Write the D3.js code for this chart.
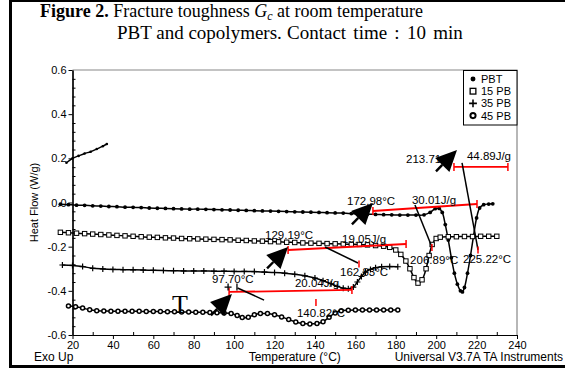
<!DOCTYPE html>
<html>
<head>
<meta charset="utf-8">
<script src="https://cdn.jsdelivr.net/npm/d3@7"></script>
<style>
  body { margin: 0; background: #fff; overflow: hidden; }
  svg { display: block; }
  text { font-family: Arial, "Liberation Sans", sans-serif; }
</style>
</head>
<body>
<svg id="chart" width="565" height="369"></svg>
<script>
// DSC traces: [temperature °C, heat flow W/g]
const pbt = [[14,-0.008],[18,-0.010],[22,-0.012],[26,-0.013],[30,-0.015],[34,-0.016],[38,-0.018],[42,-0.019],[46,-0.021],[50,-0.022],[54,-0.023],[58,-0.025],[62,-0.026],[66,-0.027],[70,-0.028],[74,-0.029],[78,-0.030],[82,-0.030],[86,-0.031],[90,-0.032],[94,-0.033],[98,-0.034],[102,-0.035],[106,-0.036],[110,-0.037],[114,-0.038],[118,-0.039],[122,-0.040],[126,-0.041],[130,-0.042],[134,-0.043],[138,-0.044],[142,-0.045],[146,-0.046],[150,-0.047],[154,-0.048],[158,-0.050],[162,-0.052],[166,-0.053],[170,-0.054],[174,-0.055],[178,-0.056],[182,-0.057],[186,-0.057],[190,-0.057],[194,-0.056],[197,-0.045],[199.5,-0.028],[201.5,-0.027],[203,-0.045],[204.5,-0.10],[206,-0.17],[207.5,-0.25],[209,-0.32],[210.5,-0.37],[212,-0.40],[213,-0.405],[214,-0.385],[215.5,-0.32],[217,-0.24],[218.5,-0.15],[220,-0.07],[221.5,-0.025],[223.5,-0.010],[226,-0.007],[228,-0.006]];
const pb15 = [[14,-0.135],[18,-0.137],[22,-0.139],[26,-0.141],[30,-0.143],[34,-0.145],[38,-0.147],[42,-0.149],[46,-0.151],[50,-0.153],[54,-0.155],[58,-0.157],[62,-0.158],[66,-0.160],[70,-0.161],[74,-0.163],[78,-0.164],[82,-0.165],[86,-0.166],[90,-0.167],[94,-0.168],[98,-0.169],[102,-0.171],[106,-0.172],[110,-0.174],[114,-0.175],[118,-0.177],[122,-0.178],[126,-0.180],[130,-0.181],[134,-0.183],[138,-0.184],[142,-0.185],[146,-0.186],[150,-0.187],[154,-0.188],[158,-0.189],[162,-0.190],[166,-0.192],[170,-0.195],[174,-0.198],[177,-0.203],[180,-0.215],[182.5,-0.235],[185,-0.265],[187,-0.30],[189,-0.34],[191,-0.365],[193,-0.35],[195,-0.30],[196.5,-0.24],[198,-0.19],[200,-0.163],[202,-0.157],[206,-0.155],[210,-0.155],[214,-0.154],[218,-0.154],[222,-0.153],[226,-0.153],[230,-0.153]];
const pb35 = [[15,-0.283],[20,-0.285],[25,-0.290],[30,-0.298],[35,-0.301],[40,-0.303],[45,-0.304],[50,-0.305],[55,-0.306],[60,-0.307],[65,-0.308],[70,-0.309],[75,-0.310],[80,-0.310],[85,-0.310],[90,-0.311],[95,-0.311],[100,-0.312],[105,-0.312],[110,-0.313],[115,-0.315],[120,-0.317],[125,-0.320],[130,-0.325],[135,-0.332],[140,-0.342],[144,-0.354],[148,-0.368],[151,-0.380],[154,-0.388],[156.5,-0.390],[159,-0.383],[161,-0.360],[163,-0.335],[165,-0.315],[167.5,-0.303],[170,-0.295],[173,-0.291],[177,-0.290],[181,-0.291]];
const pb45 = [[18,-0.469],[21.5,-0.472],[25,-0.478],[28.5,-0.486],[32,-0.490],[35.5,-0.491],[39,-0.492],[42.5,-0.492],[46,-0.493],[49.5,-0.493],[53,-0.493],[56.5,-0.494],[60,-0.494],[63.5,-0.494],[67,-0.495],[70.5,-0.495],[74,-0.496],[77.5,-0.496],[81,-0.497],[84.5,-0.497],[88,-0.498],[91.5,-0.499],[95,-0.500],[98.5,-0.503],[101.5,-0.512],[104,-0.521],[107,-0.520],[110,-0.508],[113,-0.503],[116.5,-0.503],[120,-0.508],[123.5,-0.518],[127,-0.530],[130.5,-0.541],[134,-0.548],[137.5,-0.550],[141,-0.548],[144,-0.540],[147,-0.520],[150,-0.500],[153,-0.490],[156.5,-0.488],[160,-0.487],[163.5,-0.487],[167,-0.487],[170.5,-0.487],[174,-0.487],[177.5,-0.487],[181,-0.487]];
const stray = [[17,0.180],[20,0.200],[23,0.211],[26,0.222],[29,0.230],[32,0.242],[35,0.255],[37,0.265]];

const legendNames = ['PBT', '15 PB', '35 PB', '45 PB'];
const xTicks = [20, 40, 60, 80, 100, 120, 140, 160, 180, 200, 220, 240];
const yTicks = [-0.6, -0.4, -0.2, 0, 0.2, 0.4, 0.6];

// integration baselines (red) [T1, v1, T2, v2]
const baselines = [[168.7,-0.0385,220.2,-0.0068],[208.8,0.161,235.5,0.161],[126.7,-0.215,185.1,-0.188],[97.5,-0.405,158.3,-0.396]];
// peak leaders [T1, v1, T2, v2]
const leaders = [[189.5,-0.011,197.9,-0.2015],[212.8,0.179,220.7,-0.215],[145.0,-0.2015,161.3,-0.274],[101.7,-0.387,114.8,-0.442]];
// red peak marks [T, v]
const peakMarks = [[197.9,-0.204],[220.7,-0.215],[161.8,-0.278],[140.5,-0.453]];
// onset arrows, tip at [T, v]
const arrows = [[168.7,-0.002],[210.3,0.238],[126.7,-0.2015],[98.9,-0.414]];
// annotation texts [text, T, v]
const notes = [
  ['172.98°C', 155.9, 0.007], ['30.01J/g', 188.0, 0.011],
  ['213.71', 185.1, 0.197], ['44.89J/g', 215.2, 0.210],
  ['129.19°C', 115.3, -0.147], ['19.05J/g', 153.4, -0.165],
  ['162.83°C', 152.4, -0.315], ['206.89°C', 187.1, -0.260],
  ['225.22°C', 213.3, -0.256], ['97.70°C', 89.0, -0.346],
  ['20.04J/g', 130.1, -0.365], ['140.82°C', 131.1, -0.500]
];

const svg = d3.select('#chart');
const x = d3.scaleLinear().domain([20, 240]).range([72.5, 517]);
const y = d3.scaleLinear().domain([-0.6, 0.6]).range([335, 70]);

// outer frame (left, top, bottom)
svg.append('path').attr('d', 'M700,0.5H10.5V366.5H700')
  .attr('fill', 'none').attr('stroke', '#000').attr('stroke-width', 3);

// title
const serif = '"Liberation Serif", "Times New Roman", serif';
const title = svg.append('text').attr('x', 40).attr('y', 17)
  .style('font-family', serif).style('font-size', '18px');
title.append('tspan').attr('font-weight', 'bold').text('Figure 2.');
title.append('tspan').text(' Fracture toughness ');
title.append('tspan').attr('font-style', 'italic').text('G');
title.append('tspan').attr('font-style', 'italic').attr('font-size', '12px').attr('dy', 3).text('c');
title.append('tspan').attr('dy', -3).text(' at room temperature');
const sub = svg.append('text').attr('y', 39).style('font-family', serif).style('font-size', '19px');
sub.append('tspan').attr('x', 117).text('PBT and copolymers.');
sub.append('tspan').attr('x', 287).style('word-spacing', '2.5px').text('Contact time : 10 min');

// plot frame (gray)
svg.append('path').attr('d', `M${x(20)},${y(0.6)}H${x(240)}V${y(-0.6)}`)
  .attr('fill', 'none').attr('stroke', '#888').attr('stroke-width', 1.2);

// axes
svg.append('g').attr('transform', `translate(0,${y(-0.6)})`)
  .call(d3.axisBottom(x).tickValues(xTicks).tickSize(4).tickSizeOuter(0).tickPadding(2));
svg.append('g').attr('transform', `translate(0,${y(-0.6)})`)
  .call(d3.axisBottom(x).tickValues(d3.range(30, 240, 20)).tickSize(-3).tickFormat('').tickSizeOuter(0));
svg.append('g').attr('transform', `translate(${x(20)},0)`)
  .call(d3.axisLeft(y).tickValues(yTicks).tickSize(4).tickSizeOuter(0).tickPadding(2)
    .tickFormat(d => d.toFixed(1)));
svg.append('g').attr('transform', `translate(${x(20)},0)`)
  .call(d3.axisLeft(y).tickValues(d3.range(-0.56, 0.6, 0.04).filter(v => Math.abs(v * 5 - Math.round(v * 5)) > 0.01))
    .tickSize(-3).tickFormat('').tickSizeOuter(0));
svg.selectAll('.domain').attr('stroke', '#000').attr('stroke-width', 1.2);
svg.selectAll('.tick line').attr('stroke', '#000');
svg.selectAll('.tick text').style('font-size', '11px').attr('fill', '#000');

svg.append('text').attr('transform', `translate(38,${y(0)}) rotate(-90)`).attr('text-anchor', 'middle')
  .style('font-size', '11px').text('Heat Flow (W/g)');
svg.append('text').attr('x', (x(20) + x(240)) / 2).attr('y', 361).attr('text-anchor', 'middle')
  .style('font-size', '12px').text('Temperature (°C)');
svg.append('text').attr('x', 34).attr('y', 361).style('font-size', '12px').text('Exo Up');
svg.append('text').attr('x', 563).attr('y', 361).attr('text-anchor', 'end')
  .style('font-size', '12px').text('Universal V3.7A TA Instruments');

// curves
const line = d3.line().x(d => x(d[0])).y(d => y(d[1])).curve(d3.curveCatmullRom);
const plot = svg.append('g');
[pbt, pb15, pb35, pb45, stray].forEach(s => {
  plot.append('path').datum(s).attr('d', line)
    .attr('fill', 'none').attr('stroke', '#000').attr('stroke-width', 1.5);
});

function marker(g, kind, cx, cy, k) {
  k = k || 1;
  if (kind === 0) g.append('circle').attr('cx', cx).attr('cy', cy).attr('r', 1.9 * k).attr('fill', '#000');
  if (kind === 1) g.append('rect').attr('x', cx - 2.2 * k).attr('y', cy - 2.2 * k).attr('width', 4.4 * k).attr('height', 4.4 * k)
    .attr('fill', '#fff').attr('stroke', '#000').attr('stroke-width', 1 * k);
  if (kind === 2) g.append('path').attr('d', `M${cx - 3 * k},${cy}H${cx + 3 * k}M${cx},${cy - 3 * k}V${cy + 3 * k}`)
    .attr('stroke', '#000').attr('stroke-width', 1.2 * k);
  if (kind === 3) g.append('circle').attr('cx', cx).attr('cy', cy).attr('r', 2 * k)
    .attr('fill', '#fff').attr('stroke', '#000').attr('stroke-width', 1.5 * k);
  if (kind === 4) g.append('circle').attr('cx', cx).attr('cy', cy).attr('r', 1.3).attr('fill', '#000');
}
[pbt, pb15, pb35, pb45, stray].forEach((s, k) => {
  s.forEach(d => marker(plot, k, x(d[0]), y(d[1])));
});

// annotations
const ann = svg.append('g');
baselines.forEach(b => {
  ann.append('line').attr('x1', x(b[0])).attr('y1', y(b[1])).attr('x2', x(b[2])).attr('y2', y(b[3]))
    .attr('stroke', 'red').attr('stroke-width', 1.8);
  [[b[0], b[1]], [b[2], b[3]]].forEach(p => {
    ann.append('line').attr('x1', x(p[0])).attr('x2', x(p[0])).attr('y1', y(p[1]) - 4).attr('y2', y(p[1]) + 4)
      .attr('stroke', 'red').attr('stroke-width', 1.5);
  });
});
leaders.forEach(l => {
  ann.append('line').attr('x1', x(l[0])).attr('y1', y(l[1])).attr('x2', x(l[2])).attr('y2', y(l[3]))
    .attr('stroke', '#000').attr('stroke-width', 1.5);
});
peakMarks.forEach(p => {
  ann.append('line').attr('x1', x(p[0])).attr('x2', x(p[0])).attr('y1', y(p[1]) - 3.5).attr('y2', y(p[1]) + 3.5)
    .attr('stroke', 'red').attr('stroke-width', 1.5);
});
notes.forEach(n => {
  ann.append('text').attr('x', x(n[1])).attr('y', y(n[2])).attr('dy', '0.35em')
    .style('font-size', '11.5px').text(n[0]);
});
arrows.forEach(a => {
  const tx = x(a[0]), ty = y(a[1]);
  const dx = -0.7, dy = 0.714, L = 21, w = 10;
  const bx = tx + dx * L, by = ty + dy * L;
  ann.append('path').attr('d', `M${tx},${ty}L${bx - dy * w},${by + dx * w}L${bx + dy * w},${by - dx * w}Z`).attr('fill', '#000');
  ann.append('line').attr('x1', bx).attr('y1', by).attr('x2', tx + dx * 30).attr('y2', ty + dy * 30)
    .attr('stroke', '#000').attr('stroke-width', 2.4);
});
// onset cursor mark near 97.70 °C
ann.append('path').attr('d', `M${x(97) - 3.5},${y(-0.383)}H${x(97) + 3.5}M${x(97)},${y(-0.383) - 3.5}V${y(-0.383) + 3.5}M${x(101.4)},${y(-0.383) - 3.5}V${y(-0.383) + 3.5}`)
  .attr('stroke', '#000').attr('stroke-width', 1.3);
ann.append('text').attr('x', x(69.2)).attr('y', y(-0.5))
  .style('font-family', serif).style('font-size', '26px').text('T');

// legend
const lg = svg.append('g');
lg.append('rect').attr('x', 463.5).attr('y', 70.5).attr('width', 53.5).attr('height', 54.5)
  .attr('fill', '#fff').attr('stroke', '#000').attr('stroke-width', 1);
legendNames.forEach((name, i) => {
  const cy = 79 + i * 12.2;
  marker(lg, i, 473, cy, 1.3);
  lg.append('text').attr('x', 481).attr('y', cy).attr('dy', '0.36em').style('font-size', '11px').text(name);
});
</script>
</body>
</html>
